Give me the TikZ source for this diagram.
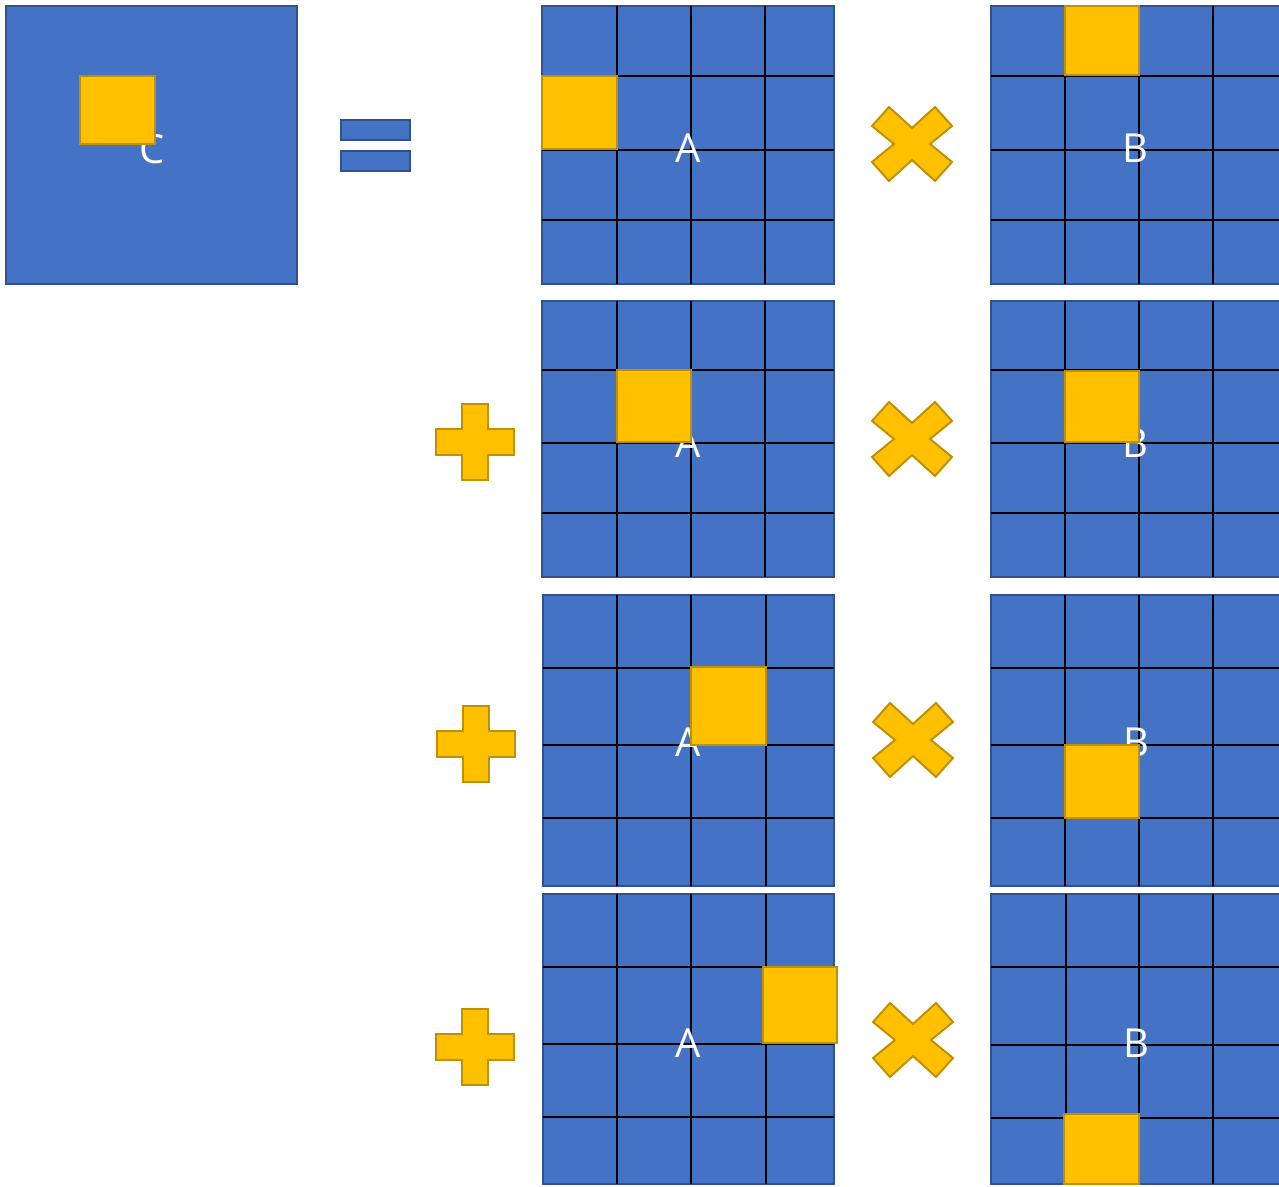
\documentclass[tikz,border=0pt]{standalone}
\usepackage{fontspec}
\setmainfont{Open Sans}
\definecolor{mblue}{HTML}{4472C4}
\definecolor{mblueedge}{HTML}{2F528F}
\definecolor{myellow}{HTML}{FFC000}
\definecolor{myellowedge}{HTML}{BF9000}
\tikzset{
  bluebox/.style={fill=mblue,draw=mblueedge,line width=2pt},
  gridline/.style={draw=black,line width=1.2pt},
  hilite/.style={fill=myellow,draw=myellowedge,line width=2pt},
  lettertext/.style={text=white,font=\fontsize{40}{40}\selectfont,inner sep=0pt,anchor=base},
  plussign/.pic={\path[hilite] (-13,-38) -- (13,-38) -- (13,-13) -- (39,-13) -- (39,13) -- (13,13) -- (13,38) -- (-13,38) -- (-13,13) -- (-39,13) -- (-39,-13) -- (-13,-13) -- cycle;},
  timessign/.pic={\path[hilite] (0,-16) -- (-23,-37) -- (-40,-18) -- (-18,0) -- (-40,18) -- (-23,37) -- (0,16) -- (23,37) -- (40,18) -- (18,0) -- (40,-18) -- (23,-37) -- cycle;}
}
\newcommand\mygrid[6]{%
  \path[bluebox] (#1,#2) rectangle (#3,#4);
  \foreach \vx in {#5} {\draw[gridline] (\vx,#2) -- (\vx,#4);}
  \foreach \hy in {#6} {\draw[gridline] (#1,\hy) -- (#3,\hy);}
}
\begin{document}
\begin{tikzpicture}[x=1pt,y=-1pt]
\useasboundingbox (0,0) rectangle (1279,1186);
\clip (0,0) rectangle (1279,1186);
% C
\path[bluebox] (6,6) rectangle (297,284);
\node[lettertext] (Ct) at (152,163) {C};
\path[hilite] (80,76) rectangle (155,144);
% equals
\path[bluebox] (341,120) rectangle (410,140);
\path[bluebox] (341,151) rectangle (410,171);
% row 1
\mygrid{542}{6}{834}{284}{617,691,765}{76,150,220}
\node[lettertext] (A1) at (688,162) {A};
\path[hilite] (542,76) rectangle (617,149);
\pic at (912,144) {timessign};
\mygrid{991}{6}{1283}{284}{1065,1139,1213}{76,150,220}
\node[lettertext] (B1) at (1135,162) {B};
\path[hilite] (1065,6) rectangle (1139,75);
% row 2
\pic at (474.5,442) {plussign};
\mygrid{542}{301}{834}{577}{617,691,765}{370,443,513}
\node[lettertext] (A2) at (688,457) {A};
\path[hilite] (617,370) rectangle (691,442);
\pic at (912,439) {timessign};
\mygrid{991}{301}{1283}{577}{1065,1139,1213}{370,443,513}
\node[lettertext] (B2) at (1135,457) {B};
\path[hilite] (1065,371) rectangle (1139,442);
% row 3
\pic at (476,744) {plussign};
\mygrid{543}{595}{834}{886}{617,691,766}{668,745,818}
\node[lettertext] (A3) at (688,756) {A};
\path[hilite] (691,667) rectangle (766,745);
\pic at (913,740) {timessign};
\mygrid{991}{595}{1283}{886}{1065,1139,1213}{668,745,818}
\node[lettertext] (B3) at (1136,756) {B};
\path[hilite] (1065,745) rectangle (1139,818);
% row 4
\pic at (474.5,1047) {plussign};
\mygrid{543}{894}{834}{1184}{617,691,766}{967,1044,1117}
\node[lettertext] (A4) at (688,1057) {A};
\path[hilite] (763,967) rectangle (837,1043);
\pic at (913,1040) {timessign};
\mygrid{991}{894}{1283}{1184}{1066,1139,1213}{967,1045,1118}
\node[lettertext] (B4) at (1136,1057) {B};
\path[hilite] (1064,1114) rectangle (1139,1184);
\end{tikzpicture}
\end{document}
